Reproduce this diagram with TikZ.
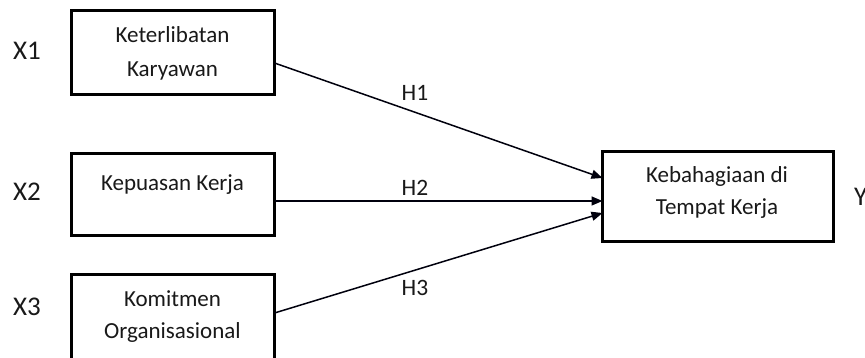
\documentclass[tikz,border=0pt]{standalone}
\usepackage{fontspec}
\setmainfont{Carlito}
\usetikzlibrary{arrows.meta}
\tikzset{
  varbox/.style={draw=black, line width=3pt, rectangle, inner sep=0pt, outer sep=0pt, fill=white},
  boxtext/.style={anchor=base, inner sep=0pt, text=black!90, font=\fontsize{23}{28}\selectfont},
  varlabel/.style={anchor=base, inner sep=0pt, text=black!90, font=\fontsize{27}{32}\selectfont},
  hyplabel/.style={anchor=base, inner sep=0pt, text=black!90, font=\fontsize{23.5}{28}\selectfont},
  path/.style={draw=black!95!blue, line width=1.5pt, -{Triangle[length=11pt,width=9pt]}}
}
\begin{document}
\begin{tikzpicture}[x=1pt,y=-1pt]
\clip (0,0) rectangle (865,358);
\useasboundingbox (0,0) rectangle (865,358);
\fill[white] (0,0) rectangle (865,358);
% boxes
\node[varbox, minimum width=203pt, minimum height=83.5pt] (k1) at (173,52.75) {};
\node[varbox, minimum width=203pt, minimum height=82pt] (k2) at (173,194.5) {};
\node[varbox, minimum width=203pt, minimum height=120pt] (k3) at (173,334.5) {};
\node[varbox, minimum width=231pt, minimum height=90pt] (ky) at (718,196.5) {};
% box texts
\node[boxtext] (t1a) at (172.5,43) {Keterlibatan};
\node[boxtext] (t1b) at (172.5,77) {Karyawan};
\node[boxtext] (t2) at (172.5,191) {Kepuasan Kerja};
\node[boxtext] (t3a) at (172.5,306) {Komitmen};
\node[boxtext] (t3b) at (172.5,338) {Organisasional};
\node[boxtext] (tya) at (717,183) {Kebahagiaan di};
\node[boxtext] (tyb) at (717,215) {Tempat Kerja};
% variable labels
\node[varlabel] (x1) at (27,59.3) {X1};
\node[varlabel] (x2) at (27,200.7) {X2};
\node[varlabel] (x3) at (27,315) {X3};
\node[varlabel, anchor=base west] (y) at (854,205.5) {Y};
% connectors
\draw[path] ([yshift=-10.25pt]k1.east) -- ([yshift=18.5pt]ky.west);
\draw[path] ([yshift=-6.5pt]k2.east) -- ([yshift=-4.5pt]ky.west);
\draw[path] ([yshift=-38.5pt]k3.north east) -- ([yshift=-16.5pt]ky.west);
% hypothesis labels
\node[hyplabel] (h1) at (415,100.7) {H1};
\node[hyplabel] (h2) at (415,196) {H2};
\node[hyplabel] (h3) at (415,295) {H3};
\end{tikzpicture}
\end{document}
